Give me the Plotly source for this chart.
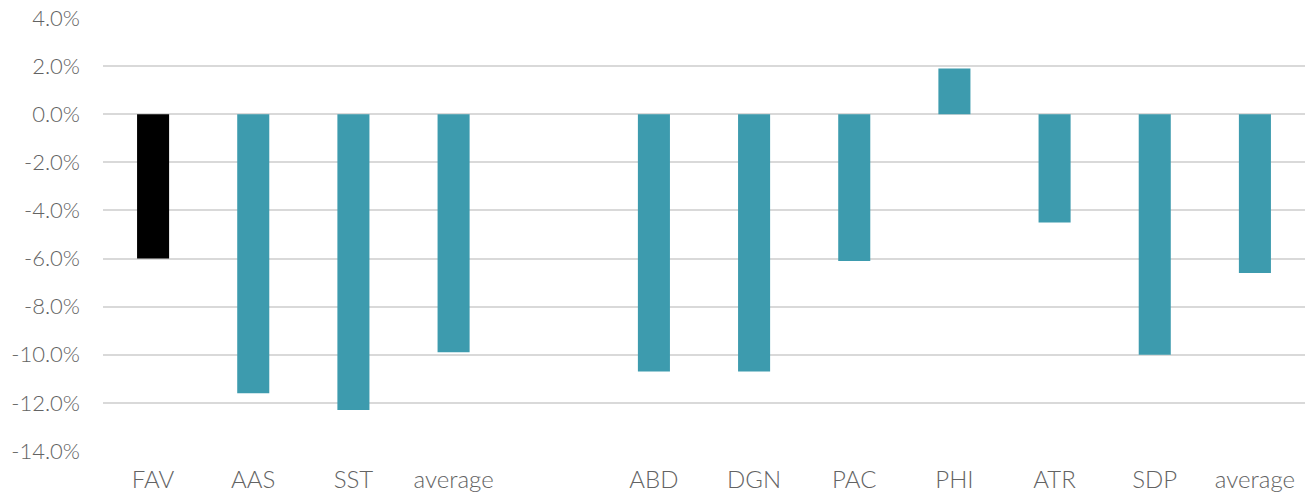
import plotly.graph_objects as go

# Category labels (empty slot separates the two groups)
categories = ["FAV", "AAS", "SST", "average", "", "ABD", "DGN", "PAC", "PHI", "ATR", "SDP", "average"]
# Change in percent
values = [-6.0, -11.6, -12.3, -9.9, None, -10.7, -10.7, -6.1, 1.9, -4.5, -10.0, -6.6]
colors = ["#000000", "#3D9BAE", "#3D9BAE", "#3D9BAE", "#3D9BAE",
          "#3D9BAE", "#3D9BAE", "#3D9BAE", "#3D9BAE", "#3D9BAE", "#3D9BAE", "#3D9BAE"]
y_ticks = [4, 2, 0, -2, -4, -6, -8, -10, -12, -14]

positions = list(range(len(categories)))

fig = go.Figure(
    go.Bar(
        x=positions,
        y=values,
        marker=dict(color=colors, line=dict(width=0)),
        width=0.32,
        hoverinfo="skip",
    )
)

font_family = "Lato Light, Lato"
text_color = "#636363"
fig.update_layout(
    width=1309,
    height=497,
    margin=dict(l=103, r=4, t=18, b=46),
    plot_bgcolor="white",
    paper_bgcolor="white",
    showlegend=False,
    font=dict(family=font_family, size=21, color=text_color, weight=300),
    xaxis=dict(
        tickmode="array",
        tickvals=positions,
        ticktext=categories,
        range=[-0.5, len(categories) - 0.5],
        showgrid=False,
        zeroline=False,
        showline=False,
        ticks="",
        ticklen=0,
        ticklabelstandoff=12,
        tickfont=dict(family=font_family, size=24, color=text_color, weight=300),
    ),
    yaxis=dict(
        range=[-14, 4],
        tickmode="array",
        tickvals=y_ticks,
        ticktext=[f"{v:.1f}%" for v in y_ticks],
        showgrid=True,
        gridcolor="#D9D9D9",
        gridwidth=1.5,
        zeroline=False,
        showline=False,
        ticks="",
        ticklabelstandoff=22,
        tickfont=dict(family=font_family, size=22, color=text_color, weight=300),
    ),
)

fig.write_html("out.html")
